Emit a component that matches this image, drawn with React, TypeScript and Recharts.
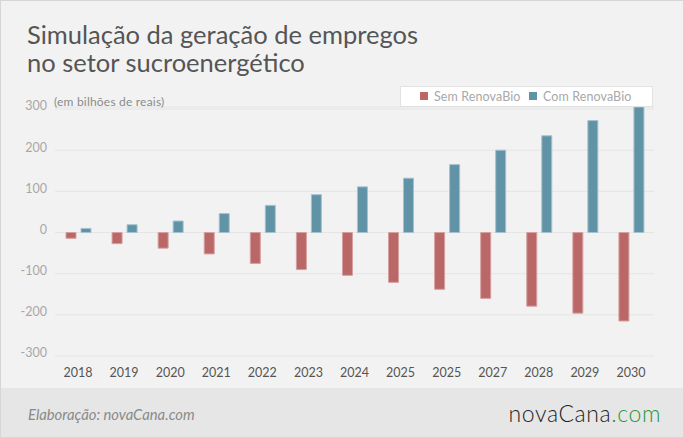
import { BarChart, Bar, XAxis, YAxis, CartesianGrid, Legend } from 'recharts'

// anos (o segundo "2025" aparece assim no rótulo original)
const years = ['2018', '2019', '2020', '2021', '2022', '2023', '2024', '2025', '2025', '2027', '2028', '2029', '2030']
const semRenovaBio = [-14, -27, -38, -52, -75, -90, -104, -121, -138, -160, -179, -196, -215]
const comRenovaBio = [10, 19, 28, 46, 66, 92, 111, 132, 165, 200, 235, 272, 305]
const yTicks = [-300, -200, -100, 0, 100, 200, 300]

const RED = '#b96767'
const BLUE = '#6193a7'

const data = years.map((year, i) => ({
  year,
  sem: semRenovaBio[i],
  com: comRenovaBio[i],
}))

const FONT = 'Lato, "Open Sans", sans-serif'

function LegendBox() {
  const items = [
    { label: 'Sem RenovaBio', color: RED, left: 19 },
    { label: 'Com RenovaBio', color: BLUE, left: 128 },
  ]
  return (
    <div
      style={{
        position: 'absolute',
        left: 399,
        top: 85,
        width: 253,
        height: 21,
        boxSizing: 'border-box',
        background: '#fff',
        border: '1.5px solid #e2e2e2',
        fontFamily: FONT,
        fontSize: 12.5,
        letterSpacing: 0.1,
        color: '#a8a8a8',
        whiteSpace: 'nowrap',
      }}
    >
      {items.map((it) => (
        <span
          key={it.label}
          style={{ position: 'absolute', left: it.left, top: 0, height: 18, display: 'flex', alignItems: 'center', gap: 6 }}
        >
          <span style={{ width: 8, height: 8, background: it.color, display: 'inline-block' }} />
          {it.label}
        </span>
      ))}
    </div>
  )
}

export default function App() {
  return (
    <div
      style={{
        position: 'relative',
        width: 684,
        height: 438,
        background: '#f2f2f2',
        border: '1px solid #d6d6d6',
        boxSizing: 'border-box',
        overflow: 'hidden',
        fontFamily: FONT,
      }}
    >
      <style>{'body{margin:0}'}</style>
      <div
        style={{
          position: 'absolute',
          left: 26,
          top: 19,
          fontSize: 25.5,
          lineHeight: '28px',
          color: '#555',
        }}
      >
        Simulação da geração de empregos
        <br />
        no setor sucroenergético
      </div>

      <div style={{ position: 'absolute', left: 0, top: 0 }}>
        <BarChart
          width={683}
          height={390}
          data={data}
          margin={{ top: 106, right: 30, bottom: 5, left: 13 }}
          barSize={10}
          barGap={5}
        >
          <CartesianGrid vertical={false} stroke="#e5e5e5" strokeWidth={1} />
          <XAxis
            dataKey="year"
            axisLine={false}
            tickLine={false}
            tickMargin={6}
            height={30}
            interval={0}
            tick={{ fill: '#555', fontSize: 12.5, fontFamily: FONT }}
          />
          <YAxis
            domain={[-300, 305]}
            ticks={yTicks}
            axisLine={false}
            tickLine={false}
            width={41}
            tick={{ fill: '#a8a8a8', fontSize: 12.5, fontFamily: FONT, dy: -3 }}
          />
          <Legend content={() => null} />
          <Bar dataKey="sem" name="Sem RenovaBio" fill={RED} stroke="#d7a0a0" strokeWidth={1} isAnimationActive={false} />
          <Bar dataKey="com" name="Com RenovaBio" fill={BLUE} stroke="#a4c2cf" strokeWidth={1} isAnimationActive={false} />
        </BarChart>
      </div>

      <div
        style={{
          position: 'absolute',
          left: 53,
          top: 93,
          fontSize: 12,
          letterSpacing: 0.2,
          color: '#8a8a8a',
        }}
      >
        (em bilhões de reais)
      </div>

      <LegendBox />

      <div
        style={{
          position: 'absolute',
          left: 0,
          top: 387,
          width: '100%',
          height: 51,
          background: '#e6e6e6',
        }}
      >
        <div
          style={{
            position: 'absolute',
            left: 27,
            top: 17,
            fontSize: 14.8,
            fontStyle: 'italic',
            color: '#8a8a8a',
          }}
        >
          Elaboração: novaCana.com
        </div>
        <div
          style={{
            position: 'absolute',
            right: 22,
            top: 11,
            fontSize: 23,
            fontWeight: 300,
            letterSpacing: 0.6,
            color: '#1e1e1e',
          }}
        >
          novaCana<span style={{ color: '#27973f' }}>.com</span>
        </div>
      </div>
    </div>
  )
}
